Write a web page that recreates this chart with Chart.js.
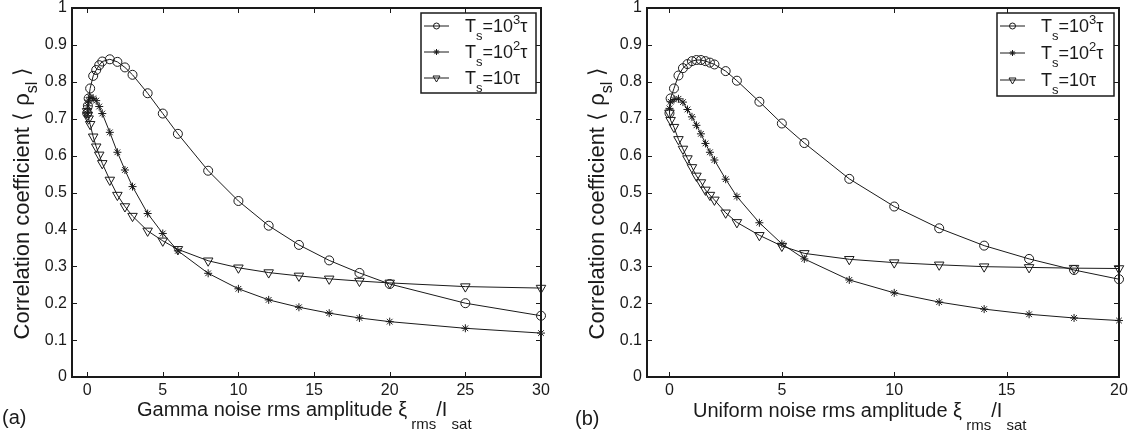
<!DOCTYPE html>
<html>
<head>
<meta charset="utf-8">
<script src="https://cdn.jsdelivr.net/npm/chart.js@4.4.1/dist/chart.umd.min.js"></script>
<style>
  html, body { margin: 0; padding: 0; background: #fff; }
  #wrap { position: relative; width: 1131px; height: 433px; }
  canvas { position: absolute; top: 0; }
</style>
</head>
<body>
<div id="wrap">
  <canvas id="chartA" width="565" height="433" style="left:0px"></canvas>
  <canvas id="chartB" width="566" height="433" style="left:565px"></canvas>
</div>
<script>
// (a) gamma noise
const xGamma = [0, 0.05, 0.1, 0.2, 0.4, 0.6, 0.8, 1, 1.5, 2, 2.5, 3, 4, 5, 6, 8, 10, 12, 14, 16, 18, 20, 25, 30];
const gamma1000 = [0.715, 0.735, 0.755, 0.782, 0.816, 0.832, 0.845, 0.855, 0.861, 0.854, 0.839, 0.819, 0.769, 0.714, 0.659, 0.559, 0.477, 0.410, 0.358, 0.316, 0.282, 0.252, 0.200, 0.166];
const gamma100 = [0.715, 0.735, 0.750, 0.758, 0.755, 0.749, 0.733, 0.714, 0.663, 0.609, 0.561, 0.516, 0.443, 0.389, 0.342, 0.281, 0.239, 0.209, 0.189, 0.173, 0.160, 0.150, 0.132, 0.119];
const gamma10 = [0.720, 0.710, 0.700, 0.685, 0.651, 0.624, 0.602, 0.579, 0.534, 0.493, 0.462, 0.436, 0.396, 0.369, 0.346, 0.315, 0.296, 0.283, 0.274, 0.266, 0.260, 0.255, 0.245, 0.241];

// (b) uniform noise
const xUniform = [0, 0.05, 0.2, 0.4, 0.6, 0.8, 1, 1.2, 1.4, 1.6, 1.8, 2, 2.5, 3, 4, 5, 6, 8, 10, 12, 14, 16, 18, 20];
const uniform1000 = [0.715, 0.755, 0.782, 0.817, 0.837, 0.848, 0.856, 0.859, 0.859, 0.856, 0.852, 0.847, 0.829, 0.803, 0.746, 0.687, 0.634, 0.537, 0.462, 0.403, 0.356, 0.320, 0.290, 0.265];
const uniform100 = [0.728, 0.746, 0.752, 0.754, 0.745, 0.725, 0.705, 0.682, 0.659, 0.633, 0.609, 0.588, 0.536, 0.489, 0.418, 0.361, 0.320, 0.263, 0.228, 0.203, 0.184, 0.170, 0.160, 0.153];
const uniform10 = [0.716, 0.696, 0.677, 0.644, 0.618, 0.592, 0.568, 0.545, 0.527, 0.507, 0.493, 0.480, 0.445, 0.419, 0.384, 0.355, 0.335, 0.319, 0.310, 0.304, 0.299, 0.297, 0.295, 0.294];

const xTicksGamma = [0, 5, 10, 15, 20, 25, 30];
const xTicksUniform = [0, 5, 10, 15, 20];
const yTicks = [0, 0.1, 0.2, 0.3, 0.4, 0.5, 0.6, 0.7, 0.8, 0.9, 1];

// legend entries: T_s = 10^3 tau, 10^2 tau, 10 tau
const legendLabels = [
  [['T', 0], ['s', 1], ['=10', 0], ['3', -1], ['τ', 0]],
  [['T', 0], ['s', 1], ['=10', 0], ['2', -1], ['τ', 0]],
  [['T', 0], ['s', 1], ['=10τ', 0]]
];
const yTitleParts = [['Correlation coefficient ⟨ ρ', 0], ['sl', 1], [' ⟩', 0]];

const FONT = '"Liberation Sans", Arial, Helvetica, sans-serif';
const INK = '#1a1a1a';

function drawParts(ctx, x, y, parts, big, small, shift, measureOnly) {
  const x0 = x;
  for (const [t, pos] of parts) {
    ctx.font = (pos ? small : big) + 'px ' + FONT;
    if (!measureOnly) ctx.fillText(t, x, y + pos * shift);
    x += ctx.measureText(t).width;
  }
  return x - x0;
}

function drawMarker(ctx, style, x, y, r) {
  ctx.beginPath();
  if (style === 'circle') {
    ctx.arc(x, y, r, 0, Math.PI * 2);
  } else if (style === 'star') {
    for (let k = 0; k < 4; k++) {
      const a = k * Math.PI / 4;
      ctx.moveTo(x - Math.cos(a) * r, y - Math.sin(a) * r);
      ctx.lineTo(x + Math.cos(a) * r, y + Math.sin(a) * r);
    }
  } else {
    ctx.moveTo(x, y + r);
    ctx.lineTo(x - r * 0.87, y - r * 0.5);
    ctx.lineTo(x + r * 0.87, y - r * 0.5);
    ctx.closePath();
  }
  ctx.stroke();
}

const framePlugin = {
  id: 'frame',
  afterDraw(chart, args, o) {
    const ctx = chart.ctx;
    const a = chart.chartArea;
    const xs = chart.scales.x, ys = chart.scales.y;
    ctx.save();
    ctx.strokeStyle = INK;
    ctx.fillStyle = INK;

    // inward ticks on all four sides
    ctx.lineWidth = 1;
    ctx.beginPath();
    xs.ticks.forEach(t => {
      const px = Math.round(xs.getPixelForValue(t.value)) + 0.5;
      ctx.moveTo(px, a.bottom); ctx.lineTo(px, a.bottom - 5);
      ctx.moveTo(px, a.top); ctx.lineTo(px, a.top + 5);
    });
    ys.ticks.forEach(t => {
      const py = Math.round(ys.getPixelForValue(t.value)) + 0.5;
      ctx.moveTo(a.left, py); ctx.lineTo(a.left + 5, py);
      ctx.moveTo(a.right, py); ctx.lineTo(a.right - 5, py);
    });
    ctx.stroke();

    ctx.lineWidth = 2;
    ctx.strokeRect(a.left, a.top, a.right - a.left, a.bottom - a.top);

    // legend
    const L = o.legend;
    ctx.fillStyle = '#fff';
    ctx.fillRect(L.x, L.y, L.w, L.h);
    ctx.lineWidth = 1.5;
    ctx.strokeRect(L.x, L.y, L.w, L.h);
    ctx.fillStyle = INK;
    chart.data.datasets.forEach((ds, i) => {
      const cy = L.y + L.rows[i];
      ctx.lineWidth = 1;
      ctx.beginPath();
      ctx.moveTo(L.x + 3, cy); ctx.lineTo(L.x + 28, cy);
      ctx.stroke();
      drawMarker(ctx, ds.pointStyle, L.x + 15.5, cy, ds.pointStyle === 'triangle' ? 4 : 3);
      drawParts(ctx, L.x + L.tx, cy + 6, legendLabels[i], 18, 13, 8);
    });

    // axis titles
    ctx.textBaseline = 'alphabetic';
    drawParts(ctx, o.xTitle.x, o.xTitle.y, o.xTitle.parts, 20, 15, 13);
    ctx.font = '20px ' + FONT;
    ctx.fillText(o.panel.t, o.panel.x, o.panel.y);

    const len = drawParts(ctx, 0, 0, yTitleParts, 22, 16, 8, true);
    ctx.translate(o.yTitle.x, o.yTitle.cy + len / 2);
    ctx.rotate(-Math.PI / 2);
    drawParts(ctx, 0, 0, yTitleParts, 22, 16, 8);
    ctx.restore();
  }
};

function makeChart(id, xv, s1000, s100, s10, xMax, xTicks, axisW, padRight, frame) {
  const pts = ys => ys.map((y, i) => ({ x: xv[i], y: y }));
  const base = { showLine: true, borderColor: INK, borderWidth: 1, backgroundColor: 'rgba(0,0,0,0)',
                 pointBorderColor: INK, pointBackgroundColor: 'rgba(0,0,0,0)', pointBorderWidth: 1,
                 tension: 0, clip: false };
  return new Chart(document.getElementById(id), {
    type: 'scatter',
    data: {
      datasets: [
        Object.assign({ label: 'Ts=10^3 tau', data: pts(s1000), pointStyle: 'circle', pointRadius: 4.5 }, base),
        Object.assign({ label: 'Ts=10^2 tau', data: pts(s100), pointStyle: 'star', pointRadius: 4 }, base),
        Object.assign({ label: 'Ts=10 tau', data: pts(s10), pointStyle: 'triangle', pointRotation: 180, pointRadius: 5.5 }, base)
      ]
    },
    options: {
      responsive: false,
      animation: false,
      devicePixelRatio: 1,
      layout: { padding: { left: 0, right: padRight, top: 8, bottom: 0 } },
      plugins: { legend: { display: false }, tooltip: { enabled: false }, frame: frame },
      scales: {
        x: {
          type: 'linear', min: -1, max: xMax,
          grid: { display: false, drawTicks: false },
          border: { display: false },
          afterBuildTicks: s => { s.ticks = xTicks.map(v => ({ value: v })); },
          afterFit: s => { s.height = 56; s.paddingLeft = 0; s.paddingRight = 0; },
          ticks: { color: INK, padding: 4, maxRotation: 0, font: { family: FONT, size: 16 },
                   callback: v => String(v) }
        },
        y: {
          type: 'linear', min: 0, max: 1,
          grid: { display: false, drawTicks: false },
          border: { display: false },
          afterBuildTicks: s => { s.ticks = yTicks.map(v => ({ value: v })); },
          afterFit: s => { s.width = axisW; s.paddingTop = 0; s.paddingBottom = 0; },
          ticks: { color: INK, padding: 5, font: { family: FONT, size: 16 },
                   callback: v => String(+v.toFixed(1)) }
        }
      }
    },
    plugins: [framePlugin]
  });
}

makeChart('chartA', xGamma, gamma1000, gamma100, gamma10, 30, xTicksGamma, 72, 24, {
  legend: { x: 421, y: 13, w: 115, h: 80, rows: [13, 39, 65], tx: 44 },
  xTitle: { x: 137, y: 416, parts: [['Gamma noise rms amplitude ξ', 0], [' rms', 1], ['/I', 0], [' sat', 1]] },
  panel: { t: '(a)', x: 2, y: 424 },
  yTitle: { x: 29, cy: 203 }
});

makeChart('chartB', xUniform, uniform1000, uniform100, uniform10, 20, xTicksUniform, 82, 12, {
  legend: { x: 432, y: 13, w: 117, h: 83, rows: [13, 40, 67], tx: 44 },
  xTitle: { x: 128, y: 417, parts: [['Uniform noise rms amplitude ξ', 0], [' rms', 1], ['/I', 0], [' sat', 1]] },
  panel: { t: '(b)', x: 10, y: 425 },
  yTitle: { x: 39, cy: 203 }
});
</script>
</body>
</html>
